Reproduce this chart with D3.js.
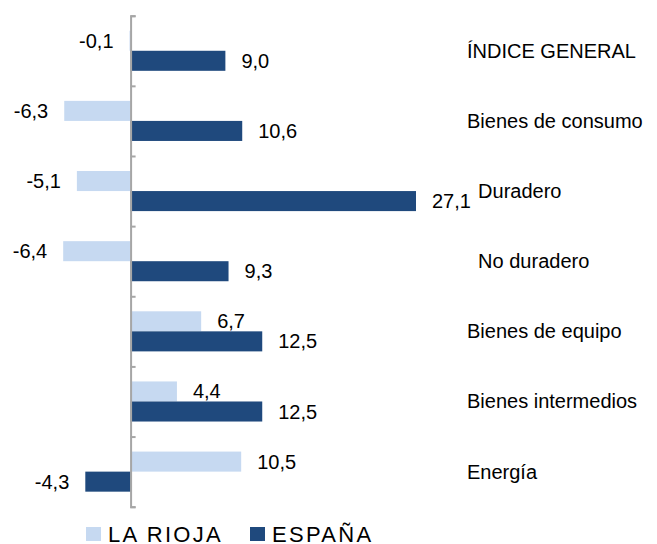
<!DOCTYPE html>
<html>
<head>
<meta charset="utf-8">
<script src="https://cdn.jsdelivr.net/npm/d3@7"></script>
<style>
  body { margin: 0; background: #fff; }
  text { font-family: "Liberation Sans", Arial, sans-serif; fill: #000; }
</style>
</head>
<body>
<div id="chart"></div>
<script>
// data
const categories = ["ÍNDICE GENERAL", "Bienes de consumo", "\u00a0\u00a0Duradero", "\u00a0\u00a0No duradero",
                    "Bienes de equipo", "Bienes intermedios", "Energía"];
const series = ["LA RIOJA", "ESPAÑA"];
const rioja = [-0.1, -6.3, -5.1, -6.4, 6.7, 4.4, 10.5];
const espana = [9.0, 10.6, 27.1, 9.3, 12.5, 12.5, -4.3];
const colors = ["#c6d9f1", "#1f497d"];

const values = [rioja, espana];
const fmt = v => d3.format(".1f")(v).replace(".", ",").replace("−", "-");

var svg = d3.select("#chart").append("svg")
    .attr("width", 657)
    .attr("height", 544);

//x scale (value)
var x = d3.scaleLinear()
    .domain([-12.4, 27.1])
    .range([0, 416]);

//category bands
var yTop = 15.7, yBottom = 506.7;
var y = d3.scaleBand()
    .domain(categories)
    .range([yTop, yBottom])
    .paddingInner(0.4286)
    .paddingOuter(0.2143);

//series inside each band
var ys = d3.scaleBand()
    .domain(series)
    .range([0, y.bandwidth()]);

//bars
series.forEach(function(s, si) {
    var rows = categories.map(function(c, i) { return { cat: c, v: values[si][i] }; });

    svg.append("g")
        .selectAll("rect")
        .data(rows)
        .enter()
        .append("rect")
            .attr("x", function(d) { return x(Math.min(0, d.v)); })
            .attr("y", function(d) { return y(d.cat) + ys(s); })
            .attr("width", function(d) { return Math.abs(x(d.v) - x(0)); })
            .attr("height", ys.bandwidth())
            .style("fill", colors[si]);

    //value labels
    svg.append("g")
        .selectAll("text")
        .data(rows)
        .enter()
        .append("text")
            .attr("x", function(d) { return d.v < 0 ? x(d.v) - 16 : x(d.v) + 16; })
            .attr("y", function(d) { return y(d.cat) + ys(s) + ys.bandwidth() / 2; })
            .attr("dy", "0.35em")
            .attr("text-anchor", function(d) { return d.v < 0 ? "end" : "start"; })
            .style("font-size", "20px")
            .text(function(d) { return fmt(d.v); });
});

//vertical axis at zero with ticks on the band edges
var yEdge = d3.scaleLinear()
    .domain([0, categories.length])
    .range([yTop, yBottom]);

var axis = svg.append("g")
    .attr("transform", "translate(" + x(0) + ",0)")
    .call(d3.axisRight(yEdge).ticks(categories.length).tickSize(5).tickFormat(""));
axis.selectAll("path, line").attr("stroke", "#a6a6a6").attr("stroke-width", 2);

//category labels on the right
svg.append("g")
    .selectAll("text")
    .data(categories)
    .enter()
    .append("text")
        .attr("x", 467)
        .attr("y", function(d) { return y(d) + y.bandwidth() / 2; })
        .attr("dy", "0.35em")
        .style("font-size", "20px")
        .text(function(d) { return d; });

//legend
var legendX = [86, 250];
var legend = svg.append("g")
    .selectAll("g")
    .data(series)
    .enter()
    .append("g")
        .attr("transform", function(d, i) { return "translate(" + legendX[i] + ",527)"; });

legend.append("rect")
    .attr("width", 15)
    .attr("height", 14)
    .style("fill", function(d, i) { return colors[i]; });

legend.append("text")
    .attr("x", 22)
    .attr("y", 15)
    .style("font-size", "22px")
    .style("letter-spacing", "2.3px")
    .text(function(d) { return d; });
</script>
</body>
</html>
